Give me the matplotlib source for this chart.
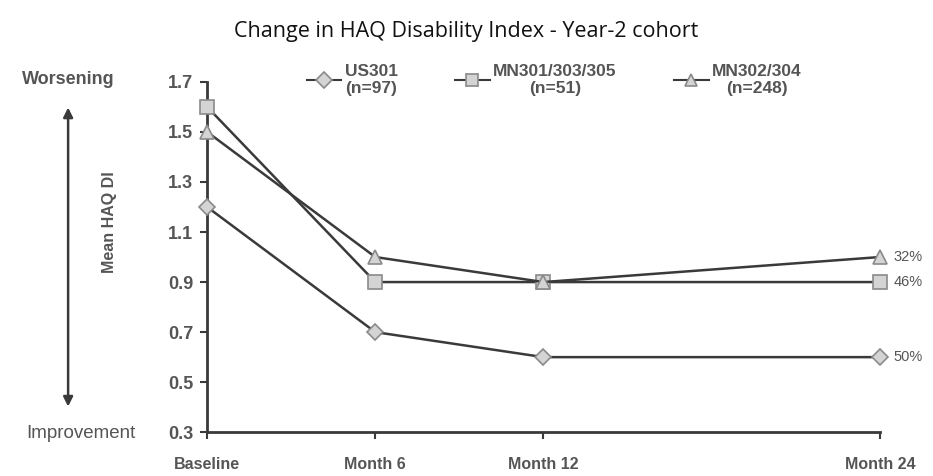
import matplotlib.pyplot as plt

months = [0, 6, 12, 24]
month_labels = ["Baseline", "Month 6", "Month 12", "Month 24"]
us301 = [1.2, 0.7, 0.6, 0.6]
mn301 = [1.6, 0.9, 0.9, 0.9]
mn302 = [1.5, 1.0, 0.9, 1.0]
series_labels = ["US301\n(n=97)", "MN301/303/305\n(n=51)", "MN302/304\n(n=248)"]
end_labels = ["50%", "46%", "32%"]
yticks = [0.3, 0.5, 0.7, 0.9, 1.1, 1.3, 1.5, 1.7]

plt.rcParams['font.family'] = ['Liberation Sans', 'DejaVu Sans']
txt = '#555555'
line_c = '#3a3a3a'

fig = plt.figure(figsize=(9.33, 4.76), dpi=100)
ax = fig.add_axes([0.222, 0.092, 0.721, 0.736])

series = [us301, mn301, mn302]
markers = ['D', 's', '^']
msizes = [8, 10, 10]
handles = []
for vals, m, ms in zip(series, markers, msizes):
    h, = ax.plot(months, vals, color=line_c, lw=1.8, marker=m, ms=ms,
                 mfc='#d4d4d4', mec='#8a8a8a', mew=1.2, clip_on=False, zorder=3)
    handles.append(h)

for vals, lab in zip(series, end_labels):
    ax.annotate(lab, (months[-1], vals[-1]), xytext=(10, 0), textcoords='offset points',
                va='center', ha='left', fontsize=10.5, color=txt)

ax.set_xlim(0, 24)
ax.set_ylim(0.3, 1.7)
ax.set_yticks(yticks)
ax.set_yticklabels([f"{v:.1f}" for v in yticks], fontsize=13, fontweight='bold', color=txt)
ax.set_xticks(months)
ax.set_xticklabels(month_labels, fontsize=11.5, fontweight='bold', color=txt)
ax.tick_params(axis='x', pad=13, length=5, width=1.5, color=line_c)
ax.tick_params(axis='y', pad=5, length=5, width=1.5, color=line_c)
for s in ['top', 'right']:
    ax.spines[s].set_visible(False)
for s in ['left', 'bottom']:
    ax.spines[s].set_linewidth(2)
    ax.spines[s].set_color(line_c)

ax.set_ylabel("Mean HAQ DI", fontsize=11.5, fontweight='bold', color=txt)
ax.yaxis.set_label_coords(-0.134, 0.6)

fig.text(0.5, 0.933, "Change in HAQ Disability Index - Year-2 cohort",
         ha='center', va='center', fontsize=15.5, family='Open Sans', color='#111111')
fig.text(0.073, 0.834, "Worsening", ha='center', va='center', fontsize=13,
         fontweight='bold', color=txt)
fig.text(0.087, 0.090, "Improvement", ha='center', va='center', fontsize=13.5,
         color=txt)
fig.add_artist(plt.Annotation("", xy=(0.073, 0.78), xytext=(0.073, 0.14),
                              xycoords='figure fraction',
                              arrowprops=dict(arrowstyle='<|-|>', color=line_c, lw=1.8,
                                              mutation_scale=14)))

leg = fig.legend(handles, series_labels, loc='center', bbox_to_anchor=(0.594, 0.832),
                 ncol=3, frameon=False, fontsize=12.5, handlelength=2.0,
                 columnspacing=3.3, handletextpad=0.2)
for t in leg.get_texts():
    t.set_multialignment('center')
    t.set_fontweight('bold')
    t.set_color(txt)
for h in leg.legend_handles:
    h.set_markersize(8)
    h.set_linewidth(1.5)

fig.savefig("out.png", dpi=100)
